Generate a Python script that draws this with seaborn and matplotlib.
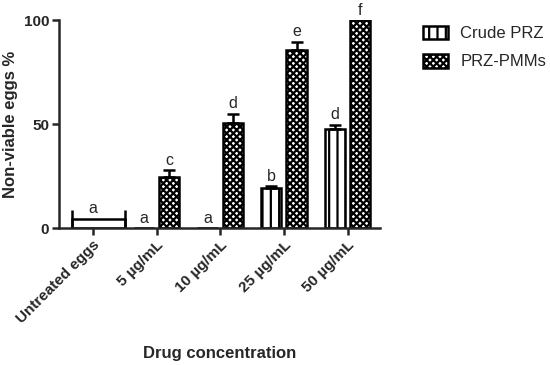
import numpy as np
import pandas as pd
import matplotlib
matplotlib.use("Agg")
import matplotlib.pyplot as plt
from matplotlib.patches import Patch
import seaborn as sns

# categories and values
categories = ["Untreated eggs", "5 µg/mL", "10 µg/mL", "25 µg/mL", "50 µg/mL"]
doses = categories[1:]
crude_mean = [0, 0, 19.2, 47.6]
crude_err = [0, 0, 1.0, 2.0]
pmm_mean = [24.5, 50.5, 85.6, 100]
pmm_err = [3.2, 4.5, 4.0, 0]
crude_letters = ["a", "a", "b", "d"]
pmm_letters = ["c", "d", "e", "f"]
untreated_mean = 4.4
untreated_cap = 8.7
untreated_letter = "a"

df = pd.DataFrame({
    "dose": doses * 2,
    "group": ["Crude PRZ"] * 4 + ["PRZ-PMMs"] * 4,
    "value": crude_mean + pmm_mean,
})

sns.set_style("ticks")
plt.rcParams["font.family"] = ["Liberation Sans", "DejaVu Sans"]
plt.rcParams["hatch.linewidth"] = 1.6

fig = plt.figure(figsize=(5.5, 3.65), dpi=100)
ax = fig.add_axes([0.107, 0.375, 0.584, 0.570])

sns.barplot(data=df, x="dose", y="value", hue="group", order=categories,
            hue_order=["Crude PRZ", "PRZ-PMMs"], dodge=True, gap=0.2,
            width=0.8, ax=ax, legend=False, errorbar=None,
            palette=["white", "white"], edgecolor="black", linewidth=1.8)

hatches = {"Crude PRZ": "||", "PRZ-PMMs": "xxxxx"}
groups = [("Crude PRZ", crude_mean, crude_err, crude_letters),
          ("PRZ-PMMs", pmm_mean, pmm_err, pmm_letters)]
bars = [p for p in ax.patches]
for gi, (name, means, errs, letters) in enumerate(groups):
    gbars = bars[gi * 4:(gi + 1) * 4]
    for b, m, e, lt in zip(gbars, means, errs, letters):
        b.set_hatch(hatches[name])
        xc = b.get_x() + b.get_width() / 2
        if e > 0:
            ax.errorbar(xc, m, yerr=[[0], [e]], color="black", capsize=4,
                        elinewidth=1.8, capthick=1.8, fmt="none")
        if m == 0:
            ax.text(xc, 1, lt, ha="center", va="bottom", fontsize=11.5)
        else:
            ax.text(xc, m + e + 1.2, lt, ha="center", va="bottom", fontsize=11.5)

# untreated control: one wide bar
ax.bar(0.09, untreated_mean, width=0.84, color="white", edgecolor="black",
       linewidth=1.8)
ax.vlines([0.09 - 0.42, 0.09 + 0.42], 0, untreated_cap, color="black",
          linewidth=1.8)
ax.text(0, untreated_mean + 1.5, untreated_letter, ha="center", va="bottom",
        fontsize=11.5)

ax.set_xlim(-0.535, 4.51)
ax.set_ylim(0, 100)
ax.set_yticks([0, 50, 100])
ax.set_xticks(range(len(categories)))
ax.set_xticklabels(categories, rotation=45, ha="right", rotation_mode="anchor",
                   fontsize=11, fontweight="bold")
for t in ax.get_yticklabels():
    t.set_fontsize(11)
    t.set_fontweight("bold")
ax.set_xlabel("Drug concentration", fontsize=12, fontweight="bold", labelpad=14)
ax.set_ylabel("Non-viable eggs %", fontsize=12, fontweight="bold")
ax.yaxis.set_label_coords(-0.128, 0.5)
sns.despine(ax=ax)
for s in ["left", "bottom"]:
    ax.spines[s].set_linewidth(1.8)
ax.tick_params(width=1.8, length=5, pad=2)

handles = [Patch(facecolor="white", edgecolor="black", hatch=hatches[g], linewidth=1.8)
           for g in ["Crude PRZ", "PRZ-PMMs"]]
fig.legend(handles, ["Crude PRZ", "PRZ-PMMs"], loc="upper left",
           bbox_to_anchor=(0.769, 0.93), frameon=False, fontsize=12,
           borderpad=0, borderaxespad=0, handlelength=1.5, handleheight=0.9,
           handletextpad=0.75, labelspacing=0.75)

fig.savefig("out.png", dpi=100)
